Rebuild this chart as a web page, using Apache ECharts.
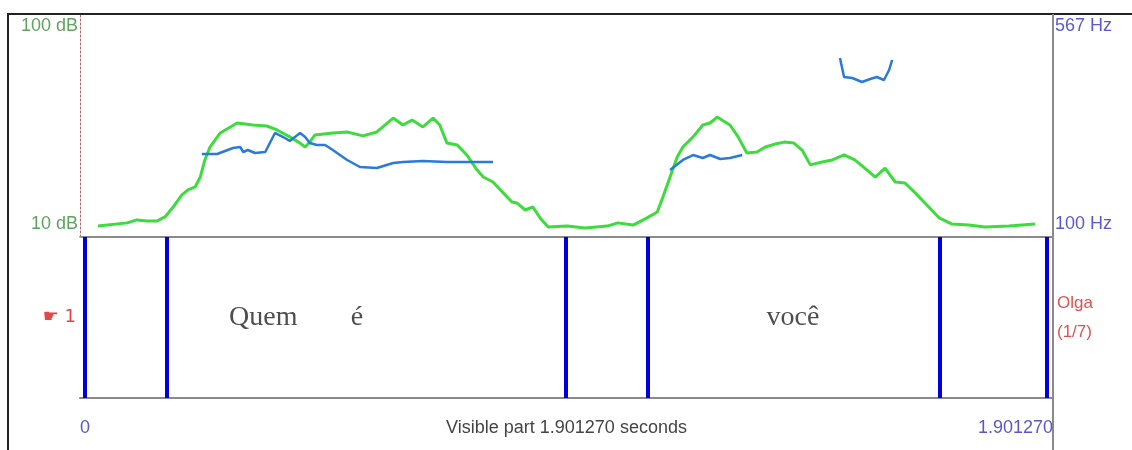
<!DOCTYPE html>
<html>
<head>
<meta charset="utf-8">
<script src="https://cdn.jsdelivr.net/npm/echarts@6/dist/echarts.min.js"></script>
<style>
  body { margin: 0; background: #fff; }
  #chart { width: 1132px; height: 450px; }
</style>
</head>
<body>
<div id="chart"></div>
<script>
// time in seconds, intensity in dB
const intensity = [
  [0.035, 14.4], [0.092, 15.7], [0.111, 16.9], [0.131, 16.5], [0.151, 16.5], [0.166, 18.1],
  [0.182, 22.1], [0.199, 27.0], [0.211, 29.0], [0.225, 30.2], [0.235, 34.2], [0.244, 41.1],
  [0.254, 46.3], [0.274, 52.0], [0.307, 56.0], [0.338, 55.2], [0.365, 54.8], [0.385, 53.2],
  [0.410, 50.4], [0.430, 47.9], [0.440, 46.3], [0.449, 48.3], [0.459, 51.2], [0.494, 52.0],
  [0.522, 52.4], [0.553, 50.8], [0.580, 52.4], [0.612, 58.0], [0.631, 55.2], [0.649, 57.2],
  [0.670, 54.4], [0.690, 58.0], [0.703, 55.2], [0.717, 47.9], [0.737, 47.1], [0.756, 43.1],
  [0.776, 37.0], [0.788, 34.2], [0.807, 32.2], [0.827, 27.8], [0.844, 24.1], [0.854, 23.7],
  [0.870, 20.9], [0.885, 22.1], [0.899, 17.7], [0.915, 14.0], [0.952, 14.4], [0.987, 13.6],
  [1.030, 14.4], [1.051, 15.7], [1.081, 14.8], [1.108, 17.7], [1.128, 20.1], [1.139, 26.1],
  [1.153, 34.2], [1.167, 42.3], [1.178, 46.3], [1.198, 50.4], [1.217, 55.2], [1.231, 56.0],
  [1.245, 58.4], [1.270, 55.2], [1.286, 50.4], [1.303, 43.9], [1.323, 44.3], [1.339, 46.3],
  [1.358, 47.5], [1.376, 48.3], [1.395, 47.9], [1.411, 45.1], [1.427, 39.1], [1.450, 40.3],
  [1.470, 41.1], [1.493, 43.1], [1.514, 41.1], [1.538, 37.0], [1.554, 34.2], [1.573, 37.8],
  [1.593, 32.2], [1.612, 31.8], [1.632, 27.8], [1.651, 23.7], [1.679, 17.7], [1.704, 15.2],
  [1.737, 14.8], [1.768, 14.0], [1.815, 14.4], [1.866, 15.2]
]

// pitch in Hz, three voiced stretches
const pitchA = [
  [0.238, 273.8], [0.268, 273.8], [0.299, 286.4], [0.313, 288.5], [0.319, 278.0], [0.328, 282.2],
  [0.342, 275.9], [0.362, 278.0], [0.371, 296.9], [0.381, 317.8], [0.397, 309.4], [0.410, 301.0],
  [0.420, 309.4], [0.430, 317.8], [0.440, 309.4], [0.449, 296.9], [0.463, 292.7], [0.479, 292.7],
  [0.494, 282.2], [0.522, 261.3], [0.547, 246.6], [0.580, 244.5], [0.612, 255.0], [0.631, 257.1],
  [0.670, 259.2], [0.717, 257.1], [0.756, 257.1], [0.807, 257.1]
]
const pitchB = [
  [1.153, 240.3], [1.178, 261.3], [1.198, 271.7], [1.217, 265.4], [1.231, 271.7], [1.251, 263.3],
  [1.270, 265.4], [1.294, 271.7]
]
const pitchC = [
  [1.485, 474.9], [1.493, 435.1], [1.509, 433.0], [1.528, 424.6], [1.544, 430.9], [1.557, 435.1],
  [1.571, 428.8], [1.581, 449.7], [1.587, 470.7]
]

const boundaries = [0.006, 0.170, 0.950, 1.106, 1.679, 1.892]
const tierLabels = [[0.358, 0.5, 'Quem'], [0.541, 0.5, 'é'], [1.393, 0.5, 'você']]

const duration = 1.90127
const dbRange = [10, 100]
const hzRange = [100, 567]

const sans = 'Liberation Sans, Arial, sans-serif'
const pitchColor = '#2a7ad8'

const pitchSeries = [pitchA, pitchB, pitchC].map(data => ({
  type: 'line',
  xAxisIndex: 0,
  yAxisIndex: 1,
  data,
  symbol: 'none',
  lineStyle: { color: pitchColor, width: 2.5 },
  z: 3
}))

const option = {
  animation: false,
  textStyle: { fontFamily: sans },
  graphic: [
    {
      type: 'rect',
      shape: { x: 8, y: 14, width: 1134, height: 450 },
      style: { fill: 'none', stroke: '#222', lineWidth: 2 },
      z: 100
    },
    {
      type: 'line',
      shape: { x1: 1053, y1: 14, x2: 1053, y2: 450 },
      style: { stroke: '#8a8a8a', lineWidth: 2 },
      z: 100
    }
  ],
  grid: [
    { left: 80, top: 14, width: 973, height: 223, outerBoundsMode: 'none' },
    { left: 80, top: 237, width: 973, height: 161, outerBoundsMode: 'none' }
  ],
  xAxis: [
    {
      type: 'value', gridIndex: 0, min: 0, max: duration,
      axisLine: { show: true, onZero: false, lineStyle: { color: '#8a8a8a', width: 2 } },
      axisTick: { show: false }, axisLabel: { show: false }, splitLine: { show: false }
    },
    {
      type: 'value', gridIndex: 1, min: 0, max: duration, interval: duration,
      axisLine: { show: true, onZero: false, lineStyle: { color: '#8a8a8a', width: 2 } },
      axisTick: { show: false }, splitLine: { show: false },
      axisLabel: {
        color: '#5858cc', fontSize: 18, margin: 21,
        alignMinLabel: 'left', alignMaxLabel: 'right',
        formatter: v => v === 0 ? '0' : v.toFixed(6)
      },
      name: 'Visible part ' + duration.toFixed(6) + ' seconds',
      nameLocation: 'middle', nameGap: 21, nameMoveOverlap: false,
      nameTextStyle: { color: '#444', fontSize: 18 }
    }
  ],
  yAxis: [
    {
      type: 'value', gridIndex: 0, min: dbRange[0], max: dbRange[1], interval: 90,
      position: 'left',
      axisLine: { show: true, lineStyle: { color: '#b06a6a', width: 1, type: [2, 2] } },
      axisTick: { show: false }, splitLine: { show: false },
      axisLabel: {
        margin: 2, fontSize: 18, color: '#5fa35f',
        formatter: v => v === dbRange[1] ? '{t|' + v + ' dB}' : '{b|' + v + ' dB}',
        rich: {
          t: { fontSize: 18, color: '#5fa35f', padding: [24, 0, 0, 0] },
          b: { fontSize: 18, color: '#5fa35f', padding: [0, 0, 26, 0] }
        }
      }
    },
    {
      type: 'value', gridIndex: 0, min: hzRange[0], max: hzRange[1], interval: hzRange[1] - hzRange[0],
      position: 'right',
      axisLine: { show: false }, axisTick: { show: false }, splitLine: { show: false },
      axisLabel: {
        margin: 2, fontSize: 18, color: '#5a5ad0',
        formatter: v => v === hzRange[1] ? '{t|' + v + ' Hz}' : '{b|' + v + ' Hz}',
        rich: {
          t: { fontSize: 18, color: '#5a5ad0', padding: [24, 0, 0, 0] },
          b: { fontSize: 18, color: '#5a5ad0', padding: [0, 0, 26, 0] }
        }
      }
    },
    {
      type: 'value', gridIndex: 1, min: 0, max: 1, interval: 0.5,
      position: 'left',
      axisLine: { show: false }, axisTick: { show: false }, splitLine: { show: false },
      axisLabel: {
        margin: 4, fontSize: 18, color: '#e04848',
        fontFamily: 'DejaVu Sans, Liberation Sans, sans-serif',
        formatter: v => v === 0.5 ? '☛ 1' : ''
      }
    },
    {
      type: 'value', gridIndex: 1, min: 0, max: 1, interval: 0.5,
      position: 'right',
      axisLine: { show: false }, axisTick: { show: false }, splitLine: { show: false },
      axisLabel: {
        margin: 4, fontSize: 17, color: '#e05050', lineHeight: 29,
        formatter: v => v === 0.5 ? 'Olga\n(1/7)' : ''
      }
    }
  ],
  series: [
    {
      type: 'line',
      xAxisIndex: 0,
      yAxisIndex: 0,
      data: intensity,
      symbol: 'none',
      lineStyle: { color: '#3ddc3d', width: 3 },
      z: 2
    },
    ...pitchSeries,
    {
      type: 'scatter',
      xAxisIndex: 1,
      yAxisIndex: 2,
      data: [[0, 0.957]],
      symbol: 'emptyCircle',
      symbolSize: 11,
      itemStyle: { color: '#fff', borderColor: '#5a5ad0', borderWidth: 1.5 },
      z: 1
    },
    {
      type: 'scatter',
      xAxisIndex: 1,
      yAxisIndex: 2,
      data: tierLabels,
      symbolSize: 0,
      label: {
        show: true,
        position: 'inside',
        formatter: p => p.data[2],
        fontFamily: 'Liberation Serif, Times New Roman, serif',
        fontSize: 28,
        color: '#222'
      },
      markLine: {
        silent: true,
        symbol: ['none', 'none'],
        label: { show: false },
        lineStyle: { color: '#0000dd', width: 4, type: 'solid' },
        data: boundaries.map(t => ({ xAxis: t }))
      },
      z: 4
    }
  ]
}

const chart = echarts.init(document.getElementById('chart'), null, { renderer: 'canvas' })
chart.setOption(option)
</script>
</body>
</html>
